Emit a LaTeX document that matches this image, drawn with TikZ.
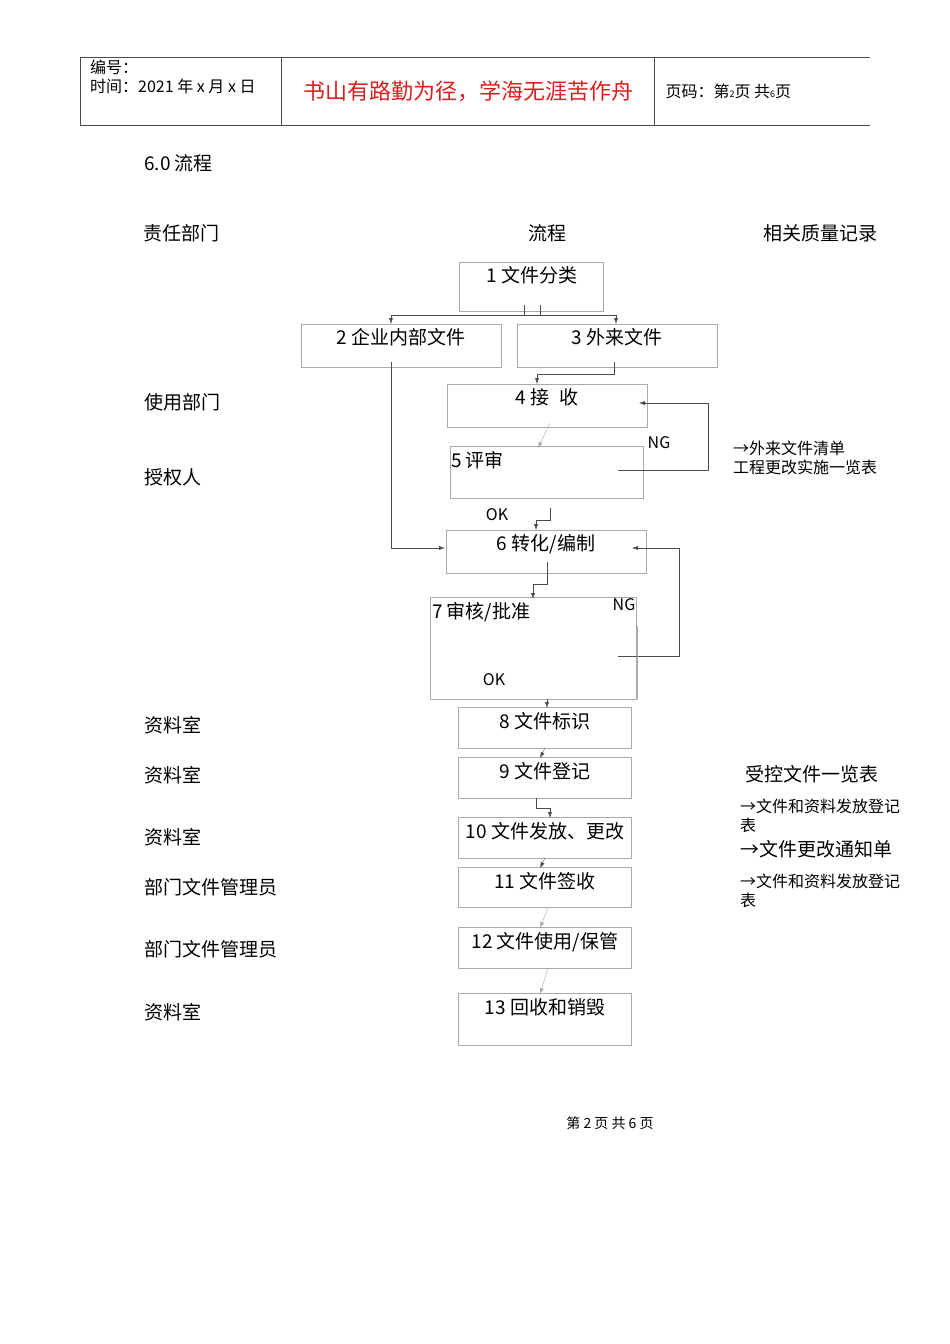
\documentclass[tikz,border=0pt]{standalone}
\usepackage{fontspec}
\setmainfont{Noto Sans CJK SC}
\usetikzlibrary{arrows.meta}
\definecolor{boxgray}{RGB}{170,170,170}
\definecolor{headred}{RGB}{220,30,30}
\tikzset{
  stepbox/.style={draw=boxgray,line width=0.6pt},
  lbl/.style={anchor=north,font=\fontsize{19}{22}\selectfont,inner sep=0pt},
  side/.style={anchor=west,font=\fontsize{19}{22}\selectfont,inner sep=0pt},
  note/.style={anchor=north west,font=\fontsize{16}{19}\selectfont,inner sep=0pt,align=left},
  flow/.style={draw=black!70,line width=0.4pt,-{Latex[length=6pt,width=4pt]}}
}
\begin{document}
\begin{tikzpicture}[x=1pt,y=-1pt]
	\useasboundingbox[fill=white] (0,0) rectangle (950,1344);
	% header table
	\draw[black!70] (870,57) -- (80,57) -- (80,125) -- (870,125);
	\draw[black!70] (281,57) -- (281,125) (654,57) -- (654,125);
	\node[note] (no) at (90,60) {编号：\\时间：2021 年 x 月 x 日};
	\node[anchor=center,font=\fontsize{22}{26}\selectfont,text=headred] (motto) at (468,91) {书山有路勤为径，学海无涯苦作舟};
	\node[anchor=west,font=\fontsize{16}{19}\selectfont] (page) at (662,91) {页码：第{\small 2}页 共{\small 6}页};

	% titles
	\node[side] (sec) at (144,163) {6.0 流程};
	\node[side] (dept) at (143,233) {责任部门};
	\node[anchor=center,font=\fontsize{19}{22}\selectfont] (flowt) at (547,233) {流程};
	\node[anchor=center,font=\fontsize{19}{22}\selectfont] (rec) at (820,233) {相关质量记录};

	% boxes
	\draw[stepbox] (459,262) rectangle (603,311);
	\node[lbl] (b1) at (532,266) {1 文件分类};
	\draw[stepbox] (301,324) rectangle (501,367);
	\node[lbl] (b2) at (401,328) {2 企业内部文件};
	\draw[stepbox] (517,324) rectangle (717,367);
	\node[lbl] (b3) at (617,328) {3 外来文件};
	\draw[stepbox] (447,384) rectangle (647,427);
	\node[lbl] (b4) at (547,388) {4 接\enspace 收};
	\draw[stepbox] (450,446) rectangle (643,498);
	\node[lbl,anchor=north west] (b5) at (451,451) {5 评审};
	\draw[stepbox] (446,530) rectangle (646,573);
	\node[lbl] (b6) at (546,534) {6 转化/编制};
	\draw[stepbox] (430,597) rectangle (636,699);
	\node[lbl,anchor=north west] (b7) at (432,602) {7 审核/批准};
	\draw[stepbox] (458,707) rectangle (631,748);
	\node[lbl] (b8) at (545,712) {8 文件标识};
	\draw[stepbox] (458,757) rectangle (631,798);
	\node[lbl] (b9) at (545,762) {9 文件登记};
	\draw[stepbox] (458,817) rectangle (631,858);
	\node[lbl] (b10) at (545,822) {10 文件发放、更改};
	\draw[stepbox] (458,867) rectangle (631,907);
	\node[lbl] (b11) at (545,872) {11 文件签收};
	\draw[stepbox] (458,927) rectangle (631,968);
	\node[lbl] (b12) at (545,932) {12 文件使用/保管};
	\draw[stepbox] (458,993) rectangle (631,1045);
	\node[lbl] (b13) at (545,998) {13 回收和销毁};

	% OK / NG
	\node[anchor=center,font=\fontsize{16}{19}\selectfont] (ng1) at (659,443) {NG};
	\node[anchor=center,font=\fontsize{16}{19}\selectfont] (ok1) at (497,515) {OK};
	\node[anchor=center,font=\fontsize{16}{19}\selectfont] (ng2) at (624,605) {NG};
	\node[anchor=center,font=\fontsize{16}{19}\selectfont] (ok2) at (494,680) {OK};

	% connectors
	\coordinate (s1) at (532,315);
	\draw[black!70] (524,305) -- (524,315) -- (540,315) -- (540,305);
	\draw[flow] (s1) -| (391,324);
	\draw[flow] (s1) -| (616,324);
	\draw[flow] (614,362) -- (614,374) -- (537,374) -- (537,384);
	\draw[flow,draw=boxgray] (550,423) -- (538,448);
	\draw[flow] (618,470) -- (708,470) -- (708,403) -- (639,403);
	\draw[flow] (550,508) -- (550,520) -- (536,520) -- (536,530);
	\draw[flow] (391,362) -- (391,548) -- (445,548);
	\draw[flow] (547,562) -- (547,584) -- (533,584) -- (533,599);
	\draw[flow] (618,656) -- (679,656) -- (679,548) -- (632,548);
	\draw[boxgray] (637,626) -- (637,699);
	\draw[flow] (547,699) -- (547,708);
	\draw[flow] (545,748) -- (540,758);
	\draw[flow] (536,798) -- (536,808) -- (550,808) -- (550,818);
	\draw[flow] (545,858) -- (540,868);
	\draw[flow,draw=boxgray] (548,908) -- (540,928);
	\draw[flow,draw=boxgray] (548,968) -- (540,994);

	% departments
	\node[side] (d4) at (144,402) {使用部门};
	\node[side] (d5) at (144,477) {授权人};
	\node[side] (d8) at (144,725) {资料室};
	\node[side] (d9) at (144,775) {资料室};
	\node[side] (d10) at (144,837) {资料室};
	\node[side] (d11) at (144,887) {部门文件管理员};
	\node[side] (d12) at (144,949) {部门文件管理员};
	\node[side] (d13) at (144,1012) {资料室};

	% records
	\node[note] (r5) at (733,441) {→外来文件清单\\工程更改实施一览表};
	\node[side] (r9) at (745,774) {受控文件一览表};
	\node[note] (r10) at (740,799) {→文件和资料发放登记\\表};
	\node[side] (r10b) at (740,849) {→文件更改通知单};
	\node[note] (r11) at (740,874) {→文件和资料发放登记\\表};

	% footer
	\node[anchor=center,font=\fontsize{14}{17}\selectfont] (foot) at (610,1123) {第 2 页 共 6 页};
\end{tikzpicture}
\end{document}
